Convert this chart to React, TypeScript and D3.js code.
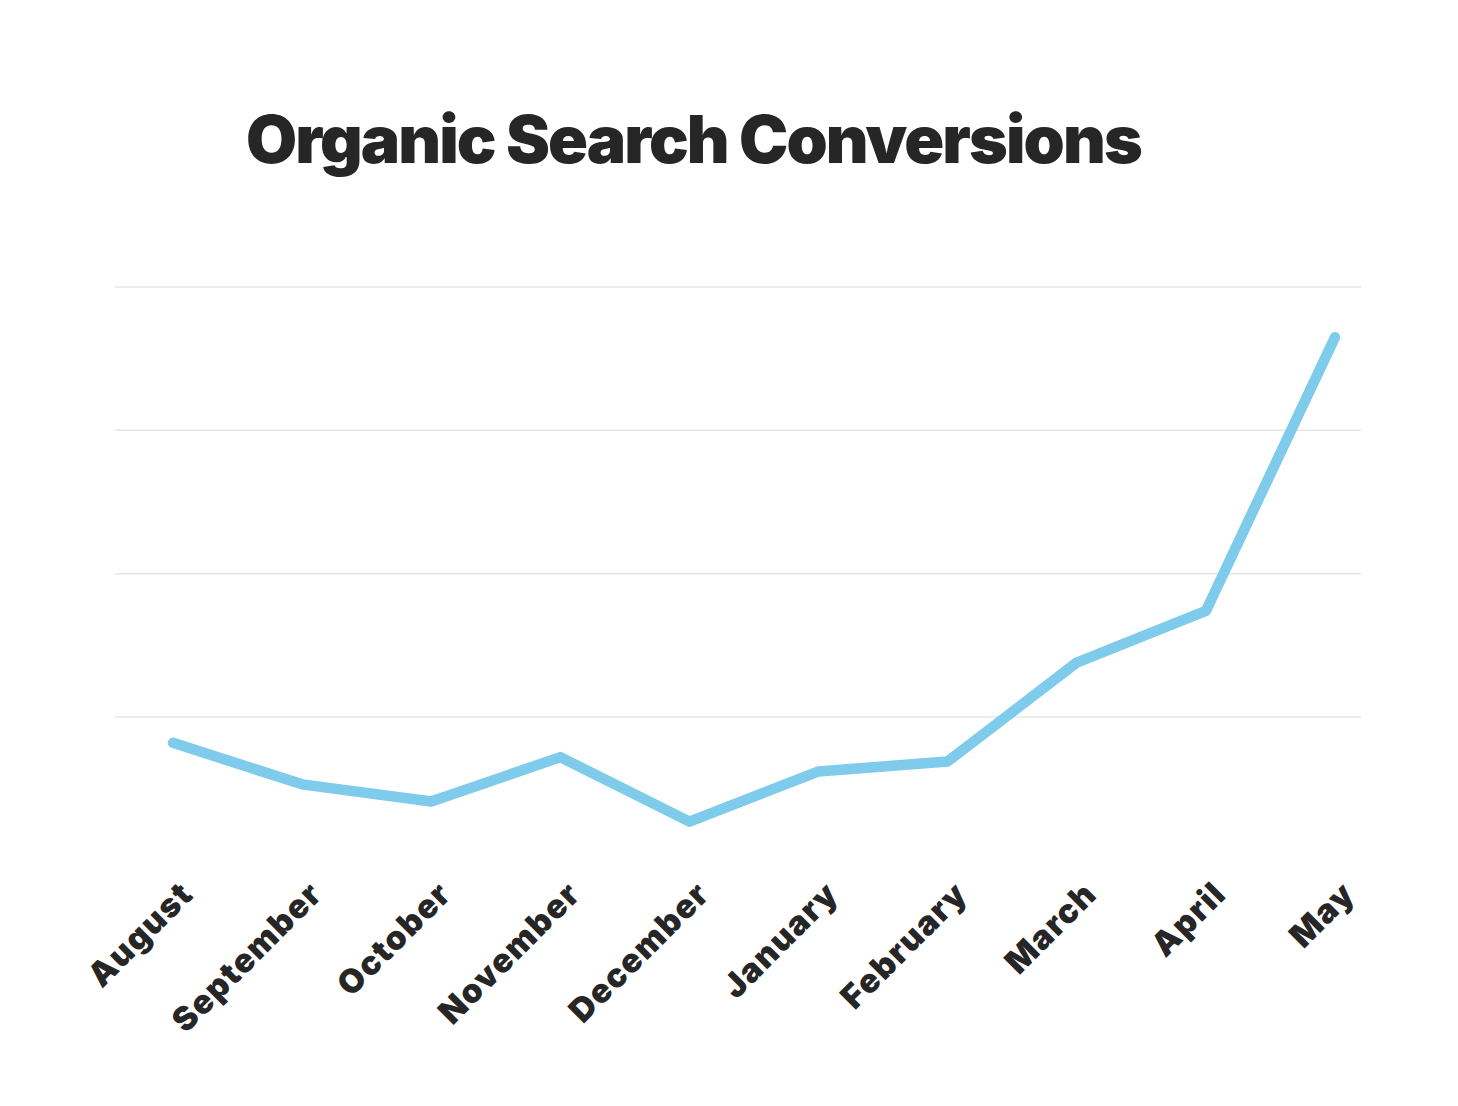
import React from "react";
import * as d3 from "d3";

const months = ["August","September","October","November","December","January","February","March","April","May"];
const conversions = [82, 53, 41, 72, 27, 62, 69, 138, 174, 365];
const gridValues = [100, 200, 300, 400];
const title = "Organic Search Conversions";

const W = 1458, H = 1106;

export default function App() {
  const x = d3.scalePoint<string>().domain(months).range([173, 1335]);
  const y = d3.scaleLinear().domain([100, 400]).range([717, 287]);
  const line = d3.line<number>()
    .x((_, i) => x(months[i]) as number)
    .y((d) => y(d));
  const font = "Inter, 'Noto Sans', sans-serif";
  return (
    <div style={{ position: "absolute", left: 0, top: 0 }}>
      <svg width={W} height={H} style={{ display: "block", background: "#fff" }}>
        <text x={246} y={163} fontFamily={font} fontWeight={900} fontSize={66}
          fill="#262626" letterSpacing={-1.9}>{title}</text>
        {gridValues.map((v) => (
          <line key={v} x1={115} x2={1361} y1={y(v)} y2={y(v)} stroke="#e6e6e6" strokeWidth={1.5} />
        ))}
        <path d={line(conversions) || ""} fill="none" stroke="#7ecbeb" strokeWidth={10.5}
          strokeLinecap="round" strokeLinejoin="round" />
        {months.map((m) => {
          const px = (x(m) as number) + 22;
          const py = 896;
          return (
            <text key={m} x={px} y={py} transform={`rotate(-45 ${px} ${py})`}
              textAnchor="end" fontFamily={font} fontWeight={900} fontSize={33}
              fill="#262626" letterSpacing={1.4}>{m}</text>
          );
        })}
      </svg>
    </div>
  );
}
